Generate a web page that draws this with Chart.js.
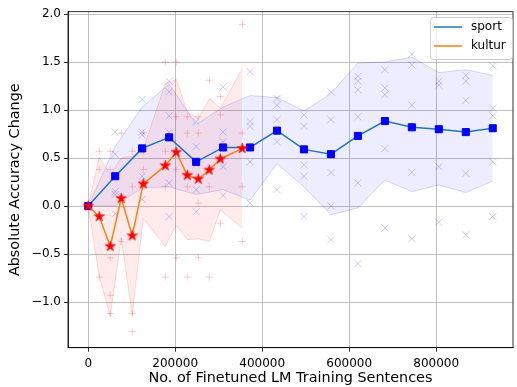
<!DOCTYPE html>
<html>
<head>
<meta charset="utf-8">
<script src="https://cdn.jsdelivr.net/npm/chart.js@4.4.1/dist/chart.umd.min.js"></script>
<style>
  html, body { margin: 0; padding: 0; overflow: hidden; background: #fff; }
  canvas { display: block; }
</style>
</head>
<body>
<canvas id="acc-chart" width="519" height="387"></canvas>
<script>
// sport: mean change, band edges and single runs
let sportX = [0, 62000, 124000, 186000, 248000, 310000, 372000, 434000, 496000, 558000, 620000, 682000, 744000, 806000, 868000, 930000]
let sportMean = [0, 0.31, 0.60, 0.715, 0.46, 0.61, 0.61, 0.785, 0.59, 0.54, 0.73, 0.885, 0.82, 0.80, 0.77, 0.81]
let sportLower = [0, 0.0, 0.19, 0.2, 0.12, 0.17, 0.06, 0.44, 0.2, -0.09, -0.02, 0.27, 0.15, 0.22, 0.14, 0.26]
let sportUpper = [0, 0.62, 1.03, 1.27, 0.85, 1.03, 1.15, 1.13, 0.99, 1.17, 1.49, 1.5, 1.55, 1.39, 1.42, 1.36]
let sportRuns = [
    [0],
    [0.77, 0.54, 0.15, 0.12, -0.08],
    [1.11, 0.77, 0.74, 0.31, 0.07],
    [1.3, 1.19, 0.94, 0.77, 0.24, -0.11],
    [0.88, 0.62, 0.43, 0.17, -0.06],
    [1.24, 0.77, 0.67, 0.41, 0.11],
    [1.4, 0.88, 0.83, 0.46, 0.03],
    [1.12, 1.05, 0.9, 0.67, 0.17],
    [0.95, 0.83, 0.43, 0.31, -0.11],
    [1.19, 0.9, 0.35, 0.0, -0.35],
    [1.35, 1.3, 1.21, 0.93, 0.24, -0.6],
    [1.42, 1.23, 1.16, 0.6, -0.23],
    [1.58, 1.47, 1.05, 0.35, -0.34],
    [1.3, 1.26, 0.41, -0.17],
    [1.36, 1.3, 1.1, 0.34, -0.3],
    [1.46, 1.02, 0.94, 0.46, -0.11]
]

// kultur
let kulturX = [0, 25300, 50600, 75900, 101200, 126500, 177100, 202400, 227700, 253000, 278300, 303600, 354200]
let kulturMean = [0, -0.11, -0.42, 0.08, -0.31, 0.23, 0.42, 0.56, 0.32, 0.28, 0.375, 0.49, 0.60]
let kulturLower = [0, -0.73, -1.15, -0.33, -1.14, -0.13, -0.42, -0.2, -0.35, -0.34, -0.37, -0.04, -0.23]
let kulturUpper = [0, 0.51, 0.33, 0.5, 0.52, 0.6, 1.27, 1.32, 0.98, 0.91, 1.12, 1.02, 1.43]
let kulturRuns = [
    [0],
    [0.57, 0.38, -0.74],
    [0.57, 0.38, -0.54, -0.93, -1.12],
    [0.76, -0.37],
    [0.57, 0.2, -1.12, -1.31],
    [0.76, 0.57, 0.38, 0.2],
    [1.5, 0.57, 0.2, -0.74],
    [1.5, 0.93, 0.38, -0.54],
    [0.93, 0.76, 0.2, -0.74],
    [0.93, 0.76, 0.03, -0.54],
    [1.31, 0.2, -0.74],
    [1.14, 0.95, -0.18],
    [1.89, 0.76, 0.2, -0.37]
]

let xTicks = [0, 200000, 400000, 600000, 800000]
let yTicks = [-1.0, -0.5, 0.0, 0.5, 1.0, 1.5, 2.0]

let FONT = 'DejaVu Sans'

function pts (xs, ys) {
    return xs.map((x, i) => ({x: x, y: ys[i]}))
}

function runPts (xs, runs) {
    let out = []
    for (let i in xs) {
        for (let v of runs[i]) out.push({x: xs[i], y: v})
    }
    return out
}

// filled 5 point star like matplotlib '*'
function makeStar (r, color) {
    let c = document.createElement('canvas')
    let s = Math.ceil(2 * r + 2)
    c.width = s
    c.height = s
    let g = c.getContext('2d')
    g.translate(s / 2, s / 2)
    g.beginPath()
    for (let i = 0; i < 10; i++) {
        let rr = i % 2 ? r * 0.382 : r
        let a = -Math.PI / 2 + i * Math.PI / 5
        g.lineTo(rr * Math.cos(a), rr * Math.sin(a))
    }
    g.closePath()
    g.fillStyle = color
    g.fill()
    g.strokeStyle = color
    g.lineWidth = 0.6
    g.stroke()
    return c
}

let starImg = makeStar(5.5, '#ff0000')

// box round the axes plus the legend
let framePlugin = {
    id: 'frame',
    afterDraw (chart) {
        let ctx = chart.ctx
        let a = chart.chartArea
        ctx.save()
        ctx.strokeStyle = '#000'
        ctx.lineWidth = 0.8
        ctx.strokeRect(a.left, a.top, a.right - a.left, a.bottom - a.top)

        // legend
        let lx = 430.5, ly = 17.5, lw = 82, lh = 42
        ctx.beginPath()
        ctx.roundRect(lx, ly, lw, lh, 3)
        ctx.fillStyle = 'rgba(255,255,255,0.8)'
        ctx.fill()
        ctx.strokeStyle = '#cccccc'
        ctx.lineWidth = 1
        ctx.stroke()

        let items = [['sport', '#1f77b4', 27], ['kultur', '#ff7f0e', 46]]
        ctx.font = '12px "' + FONT + '"'
        ctx.textBaseline = 'middle'
        for (let it of items) {
            ctx.beginPath()
            ctx.moveTo(434, it[2])
            ctx.lineTo(462, it[2])
            ctx.strokeStyle = it[1]
            ctx.lineWidth = 1.5
            ctx.stroke()
            ctx.fillStyle = '#000'
            ctx.fillText(it[0], 471, it[2])
        }
        ctx.restore()
    }
}

let chartCanvas = document.querySelector('#acc-chart')
let context = chartCanvas.getContext('2d')

let accChart = new Chart(context, {
    type: 'line',
    data: {
        datasets: [
            {
                label: 'sport low',
                data: pts(sportX, sportLower),
                borderColor: 'rgba(0,0,255,0.15)',
                borderWidth: 1,
                pointRadius: 0,
                fill: false,
                order: 10
            },
            {
                label: 'sport high',
                data: pts(sportX, sportUpper),
                borderColor: 'rgba(0,0,255,0.15)',
                backgroundColor: 'rgba(0,0,255,0.07)',
                borderWidth: 1,
                pointRadius: 0,
                fill: '-1',
                order: 10
            },
            {
                label: 'kultur low',
                data: pts(kulturX, kulturLower),
                borderColor: 'rgba(255,0,0,0.15)',
                borderWidth: 1,
                pointRadius: 0,
                fill: false,
                order: 9
            },
            {
                label: 'kultur high',
                data: pts(kulturX, kulturUpper),
                borderColor: 'rgba(255,0,0,0.15)',
                backgroundColor: 'rgba(255,0,0,0.08)',
                borderWidth: 1,
                pointRadius: 0,
                fill: '-1',
                order: 9
            },
            {
                label: 'sport runs',
                data: runPts(sportX, sportRuns),
                showLine: false,
                pointStyle: 'crossRot',
                pointRadius: 5,
                pointBorderWidth: 1,
                pointBorderColor: 'rgba(0,0,255,0.2)',
                order: 5
            },
            {
                label: 'kultur runs',
                data: runPts(kulturX, kulturRuns),
                showLine: false,
                pointStyle: 'cross',
                pointRadius: 3.6,
                pointBorderWidth: 1,
                pointBorderColor: 'rgba(255,0,0,0.2)',
                order: 5
            },
            {
                label: 'sport',
                data: pts(sportX, sportMean),
                borderColor: '#1f77b4',
                borderWidth: 1.5,
                pointStyle: 'rect',
                pointRadius: 5,
                pointBackgroundColor: '#0000ff',
                pointBorderColor: '#0000ff',
                pointBorderWidth: 1,
                order: 2
            },
            {
                label: 'kultur',
                data: pts(kulturX, kulturMean),
                borderColor: '#ff7f0e',
                borderWidth: 1.5,
                pointStyle: starImg,
                order: 1
            }
        ]
    },
    options: {
        responsive: false,
        animation: false,
        devicePixelRatio: 1,
        events: [],
        elements: { line: { tension: 0 } },
        layout: { padding: { left: 7, top: 11.7, right: 0, bottom: 0 } },
        plugins: {
            legend: { display: false },
            tooltip: { enabled: false }
        },
        scales: {
            x: {
                type: 'linear',
                min: -46500,
                max: 976500,
                afterBuildTicks: s => { s.ticks = xTicks.map(v => ({value: v})) },
                afterFit: s => { s.height = 39.3 },
                ticks: {
                    callback: v => String(v),
                    font: { family: FONT, size: 12 },
                    color: '#000',
                    padding: 5,
                    maxRotation: 0,
                    autoSkip: false
                },
                grid: { color: '#b0b0b0', lineWidth: 0.8, tickLength: 4, tickColor: '#000', tickWidth: 0.8 },
                border: { color: '#000', width: 0.8 },
                title: {
                    display: true,
                    text: 'No. of Finetuned LM Training Sentences',
                    font: { family: FONT, size: 14.4 },
                    color: '#000',
                    padding: 0
                }
            },
            y: {
                min: -1.476,
                max: 2.024,
                afterBuildTicks: s => { s.ticks = yTicks.map(v => ({value: v})) },
                afterFit: s => { s.width = 61 },
                ticks: {
                    callback: v => v.toFixed(1).replace('-', '\u2212'),
                    font: { family: FONT, size: 12 },
                    color: '#000',
                    padding: 3
                },
                grid: { color: '#b0b0b0', lineWidth: 0.8, tickLength: 4, tickColor: '#000', tickWidth: 0.8 },
                border: { color: '#000', width: 0.8 },
                title: {
                    display: true,
                    text: 'Absolute Accuracy Change',
                    font: { family: FONT, size: 14.4 },
                    color: '#000',
                    padding: 0
                }
            }
        }
    },
    plugins: [framePlugin]
})
</script>
</body>
</html>
